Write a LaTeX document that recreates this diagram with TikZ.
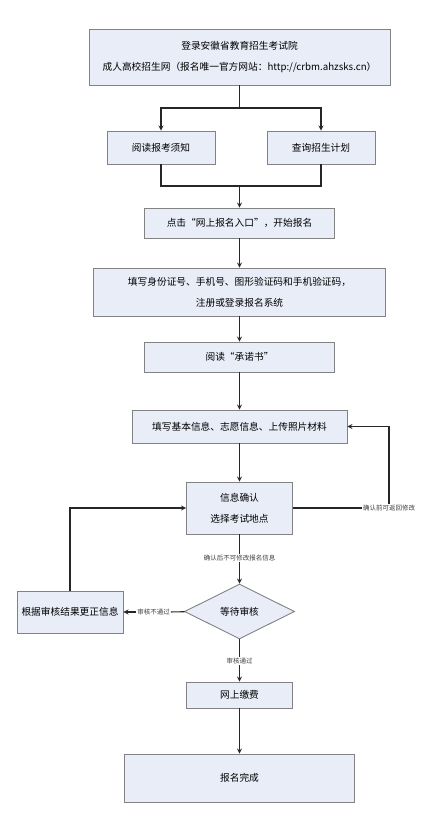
\documentclass[tikz,border=0pt]{standalone}
\usepackage{fontspec}
\setmainfont{Noto Sans CJK SC}
\usepackage{tikz}
\usetikzlibrary{arrows, shapes.geometric, positioning}
\tikzset{>=stealth}
\definecolor{boxfill}{RGB}{232,237,247}
\definecolor{boxline}{RGB}{130,130,130}
\tikzset{
	flowbox/.style={draw=boxline, fill=boxfill, line width=0.9pt, align=center, inner sep=0pt,
		font=\fontsize{9.7}{20.7}\selectfont},
	waitdiamond/.style={diamond, aspect=2, draw=boxline, fill=boxfill, line width=0.9pt, inner sep=0pt,
		minimum width=110pt, minimum height=55pt, font=\fontsize{9.7}{20.7}\selectfont},
	smalllabel/.style={fill=white, inner sep=1pt, font=\fontsize{6.5}{7}\selectfont, text=black!75},
	flowline/.style={line width=1.2pt, black!85}
}

\begin{document}
\begin{tikzpicture}[>=stealth, x=1pt, y=-1pt]
		\useasboundingbox (0,0) rectangle (434,817);
		% boxes
		\node[flowbox, minimum width=301pt, minimum height=56pt] (A1) at (239.5,57) {登录安徽省教育招生考试院\\成人高校招生网（报名唯一官方网站：http://crbm.ahzsks.cn）};
		\node[flowbox, minimum width=108pt, minimum height=33pt] (B1) at (161,147.5) {阅读报考须知};
		\node[flowbox, minimum width=108pt, minimum height=33pt] (B2) at (321,147.5) {查询招生计划};
		\node[flowbox, minimum width=190pt, minimum height=30pt] (C1) at (239.5,223) {点击“网上报名入口”，开始报名};
		\node[flowbox, minimum width=292pt, minimum height=48pt] (D1) at (239.5,292) {填写身份证号、手机号、图形验证码和手机验证码，\\注册或登录报名系统};
		\node[flowbox, minimum width=190pt, minimum height=30pt] (E1) at (239.5,357) {阅读“承诺书”};
		\node[flowbox, minimum width=215pt, minimum height=33pt] (F1) at (239.5,426.5) {填写基本信息、志愿信息、上传照片材料};
		\node[flowbox, minimum width=106pt, minimum height=52pt] (G1) at (239.5,508) {信息确认\\选择考试地点};
		\node[waitdiamond] (H1) at (239.5,611.5) {等待审核};
		\node[flowbox, minimum width=106pt, minimum height=42pt] (K1) at (70,612) {根据审核结果更正信息};
		\node[flowbox, minimum width=106pt, minimum height=26pt] (L1) at (239.5,695) {网上缴费};
		\node[flowbox, minimum width=230pt, minimum height=48pt] (M1) at (239.5,778) {报名完成};
		% labels on the connectors
		\node[smalllabel] (R1) at (389,508) {确认前可返回修改};
		\node[smalllabel] (T1) at (239.5,558) {确认后不可修改报名信息};
		\node[smalllabel] (T2) at (153.5,612) {审核不通过};
		\node[smalllabel] (T3) at (239.5,661) {审核通过};
		\coordinate (S1) at (239.5,108);
		\coordinate (S2) at (239.5,186);
		% connectors
		\draw [flowline](A1)--(S1);
		\draw [flowline,->](S1)-|(B1); \draw [flowline,->](S1)-|(B2);
		\draw [flowline](B1)|-(S2); \draw [flowline](B2)|-(S2);
		\draw [flowline,->](S2)--(C1);
		\draw [flowline,->](C1)--(D1); \draw [flowline,->](D1)--(E1);
		\draw [flowline,->](E1)--(F1); \draw [flowline,->](F1)--(G1);
		\draw [flowline](G1)--(T1); \draw [flowline,->](T1)--(H1);
		\draw [flowline](H1)--(T2); \draw [flowline,->](T2)--(K1);
		\draw [flowline,->](K1.north)|-(G1.west);
		\draw [flowline](G1.east)--(R1.west);
		\draw [flowline,->](R1.north)|-(F1.east);
		\draw [flowline](H1)--(T3); \draw [flowline,->](T3)--(L1);
		\draw [flowline,->](L1)--(M1);
		\end{tikzpicture}
\end{document}
